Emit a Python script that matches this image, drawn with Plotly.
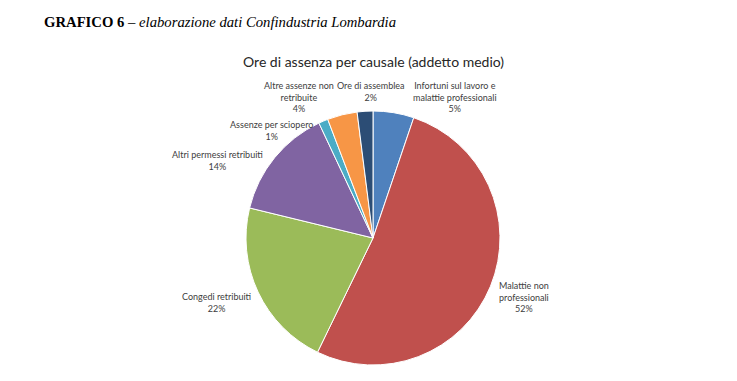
import plotly.graph_objects as go

W, H = 737, 381
OFF = 8  # page body margin offset

labels = ["Infortuni sul lavoro e<br>malattie professionali",
          "Malattie non<br>professionali",
          "Congedi retribuiti",
          "Altri permessi retribuiti",
          "Assenze per sciopero",
          "Altre assenze non<br>retribuite",
          "Ore di assemblea"]
values = [5.2, 52.0, 21.6, 14.2, 1.2, 3.8, 2.0]
colors = ["#4F81BD", "#C0504D", "#9BBB59", "#8064A2", "#4BACC6", "#F79646", "#2C4D75"]

# label anchor positions (pixel centres, screen coords)
label_pos = [(455, 97), (524, 297), (217, 302), (218, 160), (271, 130), (299, 97), (371, 91)]

cx, cy, r = 373, 238, 127


def px(x):
    return (x - OFF) / W


def py(y):
    return 1 - (y - OFF) / H


fig = go.Figure(go.Pie(
    labels=labels, values=values, sort=False, direction="clockwise", rotation=0,
    marker=dict(colors=colors, line=dict(color="white", width=1)),
    textinfo="none", hoverinfo="label+percent", showlegend=False,
    domain=dict(x=[px(cx - r), px(cx + r)], y=[py(cy + r), py(cy - r)]),
))

total = sum(values)
ann = []
for lab, v, (lx, ly) in zip(labels, values, label_pos):
    ann.append(dict(x=px(lx), y=py(ly), xref="paper", yref="paper",
                    text=f"{lab}<br>{round(100 * v / total)}%", showarrow=False,
                    xanchor="center", yanchor="middle", align="center",
                    font=dict(family="Lato", size=9, color="#404040")))

ann.append(dict(x=px(42), y=py(22), xref="paper", yref="paper", showarrow=False,
                xanchor="left", yanchor="middle",
                text="<b>GRAFICO 6</b> <i>– elaborazione dati Confindustria Lombardia</i>",
                font=dict(family="Liberation Serif", size=14.7, color="black")))
ann.append(dict(x=px(373), y=py(62), xref="paper", yref="paper", showarrow=False,
                xanchor="center", yanchor="middle",
                text="Ore di assenza per causale (addetto medio)",
                font=dict(family="Lato", size=14, color="#262626")))

fig.update_layout(width=W, height=H, margin=dict(l=0, r=0, t=0, b=0),
                  paper_bgcolor="white", plot_bgcolor="white", annotations=ann)
fig.write_html("out.html")
